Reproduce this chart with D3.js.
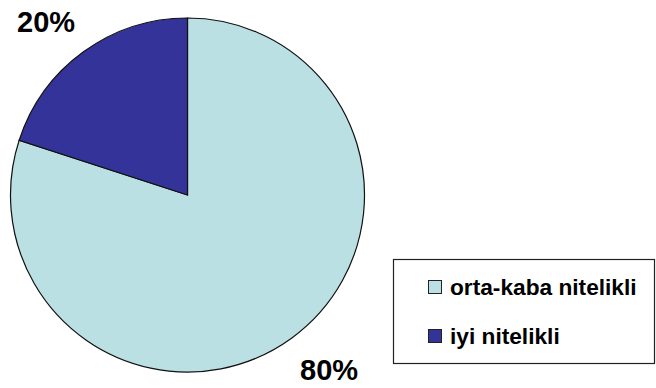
<!DOCTYPE html>
<html>
<head>
<meta charset="utf-8">
<script src="https://cdn.jsdelivr.net/npm/d3@7"></script>
<style>
  body { margin: 0; background: #fff; }
  svg text { font-family: "Liberation Sans", Arial, sans-serif; font-weight: bold; fill: #000; }
</style>
</head>
<body>
<svg width="656" height="388"></svg>
<script>
// chart data
const categories = ['orta-kaba nitelikli', 'iyi nitelikli'];
const values = [80, 20];
const colors = ['#bbe0e3', '#333399'];
const labels = ['80%', '20%'];

let svg = d3.select('svg');

const cx = 187.5, cy = 195, r = 177;

const data = categories.map((c, i) => ({ name: c, value: values[i], color: colors[i], label: labels[i] }));

const pie = d3.pie().sort(null).value(d => d.value);
const arc = d3.arc().innerRadius(0).outerRadius(r);

let g = svg.append('g').attr('transform', 'translate(' + cx + ',' + cy + ')');

g.selectAll('path')
  .data(pie(data))
  .enter()
  .append('path')
  .attr('d', arc)
  .attr('fill', d => d.data.color)
  .attr('stroke', '#111')
  .attr('stroke-width', 1.2);

// percent labels, placed outside the pie
const labelPos = [[300, 380], [17, 32]];
svg.selectAll('text.pct')
  .data(data)
  .enter()
  .append('text')
  .attr('class', 'pct')
  .attr('x', (d, i) => labelPos[i][0])
  .attr('y', (d, i) => labelPos[i][1])
  .attr('font-size', 29)
  .text(d => d.label);

// legend
let legend = svg.append('g');
legend.append('rect')
  .attr('x', 393.5).attr('y', 259.5)
  .attr('width', 261).attr('height', 104)
  .attr('fill', '#fff')
  .attr('stroke', '#222')
  .attr('stroke-width', 1.2);

let item = legend.selectAll('g.item')
  .data(data)
  .enter()
  .append('g')
  .attr('class', 'item')
  .attr('transform', (d, i) => 'translate(428,' + (280 + i * 49) + ')');

item.append('rect')
  .attr('x', 0.5).attr('y', 0.5)
  .attr('width', 13).attr('height', 13)
  .attr('fill', d => d.color)
  .attr('stroke', '#222')
  .attr('stroke-width', 1);

item.append('text')
  .attr('x', 22)
  .attr('y', 14.5)
  .attr('font-size', 22.7)
  .text(d => d.name);
</script>
</body>
</html>
